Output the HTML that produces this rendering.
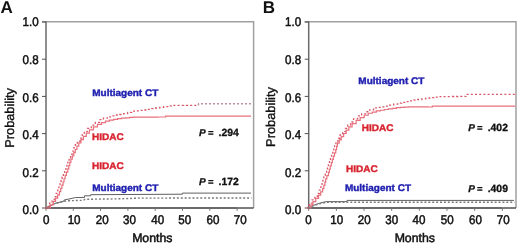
<!DOCTYPE html>
<html><head><meta charset="utf-8"><style>
html,body{margin:0;padding:0;background:#fff;}
body{width:520px;height:245px;overflow:hidden;}
svg{display:block;filter:blur(0.35px);}
text{font-family:"Liberation Sans", sans-serif;text-rendering:geometricPrecision;}
.tk{font-size:12px;fill:#111;}
.mo{font-size:12.3px;stroke:#111;stroke-width:0.5px;}
.tn{font-size:12.6px;stroke:#111;stroke-width:0.5px;}
.yl{font-size:12.8px;fill:#111;stroke:#111;stroke-width:0.35px;}
.pl{font-size:17px;font-weight:bold;fill:#111;}
.lb{font-size:10px;font-weight:bold;stroke-width:0.4px;}
.pv{font-size:10px;font-weight:bold;fill:#111;stroke:#111;stroke-width:0.3px;}
.pd{font-size:10.4px;}
.pe{font-size:9.6px;stroke-width:0.2px;}
</style></head><body>
<svg width="520" height="245" viewBox="0 0 520 245">
<rect width="520" height="245" fill="#fff"/>
<path d="M42 21.8H253.6V208" fill="none" stroke="#a0a0a0" stroke-width="1.5"/>
<path d="M237.1 208H253.6" fill="none" stroke="#505050" stroke-width="1.5"/>
<path d="M46 21.4V208" fill="none" stroke="#6a6a6a" stroke-width="1.5"/>
<path d="M45.3 208H237.1" fill="none" stroke="#383838" stroke-width="1.5"/>
<path d="M42 208H46" stroke="#505050" stroke-width="1"/>
<text transform="translate(38.6 214.4) scale(0.92 1)" text-anchor="end" class="tk tn">0.0</text>
<path d="M42 170.8H46" stroke="#505050" stroke-width="1"/>
<text transform="translate(38.6 176.78) scale(0.92 1)" text-anchor="end" class="tk tn">0.2</text>
<path d="M42 133.6H46" stroke="#505050" stroke-width="1"/>
<text transform="translate(38.6 139.16) scale(0.92 1)" text-anchor="end" class="tk tn">0.4</text>
<path d="M42 96.4H46" stroke="#505050" stroke-width="1"/>
<text transform="translate(38.6 101.54) scale(0.92 1)" text-anchor="end" class="tk tn">0.6</text>
<path d="M42 59.2H46" stroke="#505050" stroke-width="1"/>
<text transform="translate(38.6 63.92) scale(0.92 1)" text-anchor="end" class="tk tn">0.8</text>
<path d="M42 22H46" stroke="#505050" stroke-width="1"/>
<text transform="translate(38.6 26.3) scale(0.92 1)" text-anchor="end" class="tk tn">1.0</text>
<path d="M46 208V210.8" stroke="#707070" stroke-width="1"/>
<text transform="translate(46.2 224.3) scale(0.92 1)" text-anchor="middle" class="tk tn">0</text>
<path d="M73.3 208V210.8" stroke="#707070" stroke-width="1"/>
<text transform="translate(74.1 224.3) scale(0.92 1)" text-anchor="middle" class="tk tn">10</text>
<path d="M100.6 208V210.8" stroke="#707070" stroke-width="1"/>
<text transform="translate(102.3 224.3) scale(0.92 1)" text-anchor="middle" class="tk tn">20</text>
<path d="M127.9 208V210.8" stroke="#707070" stroke-width="1"/>
<text transform="translate(129.5 224.3) scale(0.92 1)" text-anchor="middle" class="tk tn">30</text>
<path d="M155.2 208V210.8" stroke="#707070" stroke-width="1"/>
<text transform="translate(157.7 224.3) scale(0.92 1)" text-anchor="middle" class="tk tn">40</text>
<path d="M182.5 208V210.8" stroke="#707070" stroke-width="1"/>
<text transform="translate(184.7 224.3) scale(0.92 1)" text-anchor="middle" class="tk tn">50</text>
<path d="M209.8 208V210.8" stroke="#707070" stroke-width="1"/>
<text transform="translate(213 224.3) scale(0.92 1)" text-anchor="middle" class="tk tn">60</text>
<path d="M237.1 208V210.8" stroke="#707070" stroke-width="1"/>
<text transform="translate(240.3 224.3) scale(0.92 1)" text-anchor="middle" class="tk tn">70</text>
<text x="152.3" y="242.3" text-anchor="middle" class="tk mo">Months</text>
<text transform="translate(13.9 117.9) rotate(-90)" text-anchor="middle" class="yl">Probability</text>
<text x="0.6" y="12.5" class="pl">A</text>
<path d="M304.7 21.8H516V208" fill="none" stroke="#a0a0a0" stroke-width="1.5"/>
<path d="M502.32 208H516" fill="none" stroke="#505050" stroke-width="1.5"/>
<path d="M308.7 21.4V208" fill="none" stroke="#6a6a6a" stroke-width="1.5"/>
<path d="M308 208H502.32" fill="none" stroke="#383838" stroke-width="1.5"/>
<path d="M304.7 208H308.7" stroke="#505050" stroke-width="1"/>
<text transform="translate(301.2 214.4) scale(0.92 1)" text-anchor="end" class="tk tn">0.0</text>
<path d="M304.7 170.8H308.7" stroke="#505050" stroke-width="1"/>
<text transform="translate(301.2 176.78) scale(0.92 1)" text-anchor="end" class="tk tn">0.2</text>
<path d="M304.7 133.6H308.7" stroke="#505050" stroke-width="1"/>
<text transform="translate(301.2 139.16) scale(0.92 1)" text-anchor="end" class="tk tn">0.4</text>
<path d="M304.7 96.4H308.7" stroke="#505050" stroke-width="1"/>
<text transform="translate(301.2 101.54) scale(0.92 1)" text-anchor="end" class="tk tn">0.6</text>
<path d="M304.7 59.2H308.7" stroke="#505050" stroke-width="1"/>
<text transform="translate(301.2 63.92) scale(0.92 1)" text-anchor="end" class="tk tn">0.8</text>
<path d="M304.7 22H308.7" stroke="#505050" stroke-width="1"/>
<text transform="translate(301.2 26.3) scale(0.92 1)" text-anchor="end" class="tk tn">1.0</text>
<path d="M308.7 208V210.8" stroke="#707070" stroke-width="1"/>
<text transform="translate(308.4 224.3) scale(0.92 1)" text-anchor="middle" class="tk tn">0</text>
<path d="M336.36 208V210.8" stroke="#707070" stroke-width="1"/>
<text transform="translate(336.7 224.3) scale(0.92 1)" text-anchor="middle" class="tk tn">10</text>
<path d="M364.02 208V210.8" stroke="#707070" stroke-width="1"/>
<text transform="translate(364.2 224.3) scale(0.92 1)" text-anchor="middle" class="tk tn">20</text>
<path d="M391.68 208V210.8" stroke="#707070" stroke-width="1"/>
<text transform="translate(391.8 224.3) scale(0.92 1)" text-anchor="middle" class="tk tn">30</text>
<path d="M419.34 208V210.8" stroke="#707070" stroke-width="1"/>
<text transform="translate(419 224.3) scale(0.92 1)" text-anchor="middle" class="tk tn">40</text>
<path d="M447 208V210.8" stroke="#707070" stroke-width="1"/>
<text transform="translate(447.3 224.3) scale(0.92 1)" text-anchor="middle" class="tk tn">50</text>
<path d="M474.66 208V210.8" stroke="#707070" stroke-width="1"/>
<text transform="translate(475.5 224.3) scale(0.92 1)" text-anchor="middle" class="tk tn">60</text>
<path d="M502.32 208V210.8" stroke="#707070" stroke-width="1"/>
<text transform="translate(503.2 224.3) scale(0.92 1)" text-anchor="middle" class="tk tn">70</text>
<text x="414.8" y="242.3" text-anchor="middle" class="tk mo">Months</text>
<text transform="translate(275.4 117) rotate(-90)" text-anchor="middle" class="yl">Probability</text>
<text x="262.8" y="12.5" class="pl">B</text>
<polyline points="46,208 50,206 54.5,203.5 58,202.6 62,201.6 64.1,201 64.1,200 70,198.8 75.3,197.6 84.5,197.4 84.5,195.8 90.6,195.8 90.6,194.7 182.4,194.2 182.4,193.1 251,193.1" fill="none" stroke="#606060" stroke-width="1.0" stroke-opacity="1"/>
<polyline points="46,208 52,204.5 60,202.3 67,200.8 83.5,200.3 85,199.3 120,198.8 140,198.1 251.5,198" fill="none" stroke="#7a7a7a" stroke-width="1.4" stroke-dasharray="2 1.9" stroke-opacity="1"/>
<polyline points="47.4,208 50.4,208 50.4,204.8 53.3,204.8 53.3,201.5 55.57,201.5 55.57,198.2 57.66,198.2 57.66,194.9 59.42,194.9 59.42,191.7 60.74,191.7 60.74,188.4 61.91,188.4 61.91,185.2 63.06,185.2 63.06,182 64.02,182 64.02,178.73 65.14,178.73 65.14,175.47 66.42,175.47 66.42,172.2 67.79,172.2 67.79,168.91 68.79,168.91 68.79,165.7 69.76,165.7 69.76,162.4 70.86,162.4 70.86,159.19 72.32,159.19 72.32,155.95 73.78,155.95 73.78,152.71 75.31,152.71 75.31,149.5 76.9,149.5 76.9,146.2 78.8,146.2 78.8,142.9 80.92,142.9 80.92,139.6 83.4,139.6 83.4,136.3 86.28,136.3 86.28,133.1 89.42,133.1 89.42,129.8 93.42,129.8 93.42,126.78 97.47,126.78 97.47,124.45 101.5,124.45 101.5,122.61 105.5,122.61 105.5,121.17 109.51,121.17 109.51,120.03 113.55,120.03 113.55,119.37 117.58,119.37 117.58,118.7 121.6,118.7 121.6,118.16 125.6,118.16 125.6,117.81 129.6,117.81 129.6,117.47 133.6,117.47 133.6,117.12 137.61,117.12 137.61,117.09 141.62,117.09 141.62,117.08 145.64,117.08 145.64,117.06 149.65,117.06 149.65,117.05 153.66,117.05 153.66,117.04 157.68,117.04 157.68,117.02 161.69,117.02 161.69,117.01 165.7,117.01 165.7,116.1 169.71,116.1 169.71,116.1 173.71,116.1 173.71,116.1 177.71,116.1 177.71,116.1 181.72,116.1 181.72,116.1 185.72,116.1 185.72,116.1 189.73,116.1 189.73,116.1 193.73,116.1 193.73,116.1 197.74,116.1 197.74,116.1 201.74,116.1 201.74,116.1 205.75,116.1 205.75,116.1 209.75,116.1 209.75,116.1 213.76,116.1 213.76,116.1 217.76,116.1 217.76,116.1 221.77,116.1 221.77,116.1 225.77,116.1 225.77,116.1 229.78,116.1 229.78,116.1 233.78,116.1 233.78,116.1 237.78,116.1 237.78,116.1 241.79,116.1 241.79,116.1 245.79,116.1 245.79,116.1 249.8,116.1 249.8,116.1 251,116.1 251,116.1" fill="none" stroke="#e8707c" stroke-width="1.2" stroke-opacity="1"/>
<polyline points="45,208 46.5,208 46.5,206.3 49.55,206.3 49.55,203.05 52.07,203.05 52.07,199.8 54.24,199.8 54.24,196.6 56.22,196.6 56.22,193.3 57.66,193.3 57.66,190.1 58.93,190.1 58.93,186.8 60.09,186.8 60.09,183.6 61.14,183.6 61.14,180.36 62.1,180.36 62.1,177.1 63.38,177.1 63.38,173.84 64.7,173.84 64.7,170.56 65.92,170.56 65.92,167.3 66.86,167.3 66.86,164.1 67.8,164.1 67.8,160.9 69.14,160.9 69.14,157.67 70.6,157.67 70.6,154.43 72.09,154.43 72.09,151.2 73.68,151.2 73.68,147.9 75.35,147.9 75.35,144.7 77.27,144.7 77.27,141.4 80.06,141.4 80.06,138.2 82.26,138.2 82.26,134.9 84.27,134.9 84.27,131.7 87.3,131.7 87.3,128.42 91.29,128.42 91.29,125.18 95.35,125.18 95.35,122.35 99.4,122.35 99.4,119.66 103.4,119.66 103.4,118.22 107.4,118.22 107.4,116.78 111.44,116.78 111.44,115.86 115.49,115.86 115.49,115.01 119.56,115.01 119.56,114.5 123.6,114.5 123.6,113.63 127.6,113.63 127.6,112.3 131.6,112.3 131.6,111.21 135.6,111.21 135.6,110.83 139.6,110.83 139.6,110.45 143.6,110.45 143.6,109.98 147.6,109.98 147.6,109.31 151.6,109.31 151.6,108.63 155.65,108.63 155.65,107.99 159.7,107.99 159.7,107.35 163.7,107.35 163.7,106.66 167.7,106.66 167.7,105.96 171.7,105.96 171.7,105.4 175.7,105.4 175.7,105.38 179.7,105.38 179.7,105.37 183.7,105.37 183.7,105.35 187.7,105.35 187.7,105.34 191.7,105.34 191.7,105.32 195.7,105.32 195.7,105.31 198.3,105.31 198.3,105.3" fill="none" stroke="#d85868" stroke-width="1.3" stroke-dasharray="2 2.2" stroke-opacity="1"/>
<polyline points="308.4,208 313,205.5 319.4,203.3 323,202.3 327,201.6 347,201.6 347,200.4 514,200.4" fill="none" stroke="#606060" stroke-width="1.0" stroke-opacity="1"/>
<polyline points="308.4,208 313,205.8 319.4,203.8 326.6,202.2 514.5,202.2" fill="none" stroke="#7a7a7a" stroke-width="1.4" stroke-dasharray="2 1.9" stroke-opacity="1"/>
<polyline points="309.6,208 310.93,208 310.93,204.8 312.98,204.8 312.98,201.56 315.75,201.56 315.75,198.3 318.56,198.3 318.56,195.1 320.67,195.1 320.67,191.85 322.64,191.85 322.64,188.6 323.83,188.6 323.83,185.4 324.9,185.4 324.9,182.2 325.72,182.2 325.72,178.9 326.85,178.9 326.85,175.7 328.5,175.7 328.5,172.4 329.4,172.4 329.4,169.2 330.23,169.2 330.23,165.9 331.3,165.9 331.3,162.7 332.38,162.7 332.38,159.4 333.34,159.4 333.34,156.2 334.54,156.2 334.54,152.9 335.77,152.9 335.77,149.7 336.57,149.7 336.57,146.4 337.35,146.4 337.35,143.2 339.25,143.2 339.25,139.95 341.22,139.95 341.22,136.7 343.65,136.7 343.65,133.5 346.2,133.5 346.2,130.2 348.87,130.2 348.87,126.9 352.1,126.9 352.1,123.69 356.1,123.69 356.1,120.42 360.16,120.42 360.16,117.66 364.2,117.66 364.2,115.25 368.21,115.25 368.21,113.24 372.26,113.24 372.26,112.06 376.3,112.06 376.3,110.93 380.3,110.93 380.3,110.23 384.3,110.23 384.3,109.52 388.33,109.52 388.33,108.91 392.36,108.91 392.36,108.31 396.39,108.31 396.39,107.72 400.4,107.72 400.4,107.42 404.4,107.42 404.4,107.19 408.4,107.19 408.4,106.96 412.4,106.96 412.4,106.91 416.4,106.91 416.4,106.93 420.4,106.93 420.4,106.95 424.4,106.95 424.4,106.97 428.4,106.97 428.4,106.99 432.4,106.99 432.4,106.1 436.41,106.1 436.41,106.1 440.41,106.1 440.41,106.1 444.42,106.1 444.42,106.1 448.42,106.1 448.42,106.1 452.43,106.1 452.43,106.1 456.43,106.1 456.43,106.1 460.44,106.1 460.44,106.1 464.44,106.1 464.44,106.1 468.45,106.1 468.45,106.1 472.45,106.1 472.45,106.1 476.45,106.1 476.45,106.1 480.46,106.1 480.46,106.1 484.46,106.1 484.46,106.1 488.47,106.1 488.47,106.1 492.47,106.1 492.47,106.1 496.48,106.1 496.48,106.1 500.48,106.1 500.48,106.1 504.49,106.1 504.49,106.1 508.49,106.1 508.49,106.1 512.5,106.1 512.5,106.1 515.3,106.1 515.3,106.1" fill="none" stroke="#e8707c" stroke-width="1.2" stroke-opacity="1"/>
<polyline points="307.2,208 307.91,208 307.91,206.3 309.29,206.3 309.29,203.1 312.04,203.1 312.04,199.81 314.84,199.81 314.84,196.6 317.34,196.6 317.34,193.38 319.31,193.38 319.31,190.13 320.88,190.13 320.88,186.9 322.05,186.9 322.05,183.7 322.95,183.7 322.95,180.4 323.75,180.4 323.75,177.2 325.35,177.2 325.35,173.9 326.62,173.9 326.62,170.7 327.45,170.7 327.45,167.4 328.4,167.4 328.4,164.2 329.5,164.2 329.5,160.9 330.49,160.9 330.49,157.7 331.54,157.7 331.54,154.4 332.82,154.4 332.82,151.2 333.81,151.2 333.81,147.9 334.59,147.9 334.59,144.7 335.92,144.7 335.92,141.48 337.89,141.48 337.89,138.23 340.09,138.23 340.09,135 342.64,135 342.64,131.7 345.28,131.7 345.28,128.4 347.73,128.4 347.73,125.2 350.5,125.2 350.5,122 353.53,122 353.53,118.8 357.6,118.8 357.6,115.95 361.6,115.95 361.6,113.82 365.6,113.82 365.6,111.77 369.6,111.77 369.6,109.81 373.6,109.81 373.6,107.89 377.6,107.89 377.6,107.34 381.6,107.34 381.6,106.8 385.61,106.8 385.61,106.13 389.64,106.13 389.64,105.15 393.67,105.15 393.67,104.16 397.7,104.16 397.7,103.2 401.7,103.2 401.7,102.42 405.7,102.42 405.7,101.64 409.7,101.64 409.7,100.87 413.73,100.87 413.73,100.18 417.76,100.18 417.76,99.5 421.78,99.5 421.78,98.81 425.81,98.81 425.81,98.2 429.84,98.2 429.84,97.69 433.87,97.69 433.87,97.17 437.9,97.17 437.9,96.66 441.9,96.66 441.9,96.57 445.9,96.57 445.9,96.54 449.9,96.54 449.9,96.51 453.9,96.51 453.9,96.48 457.9,96.48 457.9,96.45 461.9,96.45 461.9,96.41 465.9,96.41 465.9,94.4 469.91,94.4 469.91,94.4 473.92,94.4 473.92,94.4 477.93,94.4 477.93,94.4 481.94,94.4 481.94,94.4 485.94,94.4 485.94,94.4 489.95,94.4 489.95,94.4 493.96,94.4 493.96,94.4 497.97,94.4 497.97,94.4 501.97,94.4 501.97,94.4 505.98,94.4 505.98,94.4 509.99,94.4 509.99,94.4 514,94.4 514,94.4 515.3,94.4 515.3,94.4" fill="none" stroke="#d85868" stroke-width="1.3" stroke-dasharray="2 2.2" stroke-opacity="1"/>
<polyline points="198.3,105.3 198.6,103.7 251.5,103.7" fill="none" stroke="#c09098" stroke-width="1.5" stroke-dasharray="2 2" stroke-opacity="1"/>
<text transform="translate(92.2 96.2) scale(1 0.96)" class="lb" fill="#2020b0" stroke="#2020b0">Multiagent CT</text>
<text transform="translate(92 140.4) scale(1 0.96)" class="lb" fill="#d82430" stroke="#d82430">HIDAC</text>
<text transform="translate(92 169.1) scale(1 0.96)" class="lb" fill="#d82430" stroke="#d82430">HIDAC</text>
<text transform="translate(92.2 190.8) scale(1 0.96)" class="lb" fill="#2020b0" stroke="#2020b0">Multiagent CT</text>
<text transform="translate(358.3 84.4) scale(1 0.96)" class="lb" fill="#2020b0" stroke="#2020b0">Multiagent CT</text>
<text transform="translate(361.7 130.9) scale(1 0.96)" class="lb" fill="#d82430" stroke="#d82430">HIDAC</text>
<text transform="translate(346.1 172) scale(1 0.96)" class="lb" fill="#d82430" stroke="#d82430">HIDAC</text>
<text transform="translate(344.9 191.2) scale(1 0.96)" class="lb" fill="#2020b0" stroke="#2020b0">Multiagent CT</text>
<g transform="translate(198.9 135.5) scale(1 1.0)"><text x="0.2" y="0" class="pv" font-style="italic">P</text><text x="9.0" y="0" class="pv pe">=</text><text x="19.6" y="0" class="pv pd">.294</text></g>
<g transform="translate(198.9 185.1) scale(1 1.0)"><text x="0.2" y="0" class="pv" font-style="italic">P</text><text x="9.0" y="0" class="pv pe">=</text><text x="19.6" y="0" class="pv pd">.172</text></g>
<g transform="translate(468.1 130.8) scale(1 1.0)"><text x="0.2" y="0" class="pv" font-style="italic">P</text><text x="9.0" y="0" class="pv pe">=</text><text x="19.6" y="0" class="pv pd">.402</text></g>
<g transform="translate(468.1 192.4) scale(1 1.0)"><text x="0.2" y="0" class="pv" font-style="italic">P</text><text x="9.0" y="0" class="pv pe">=</text><text x="19.6" y="0" class="pv pd">.409</text></g>
</svg>
</body></html>
